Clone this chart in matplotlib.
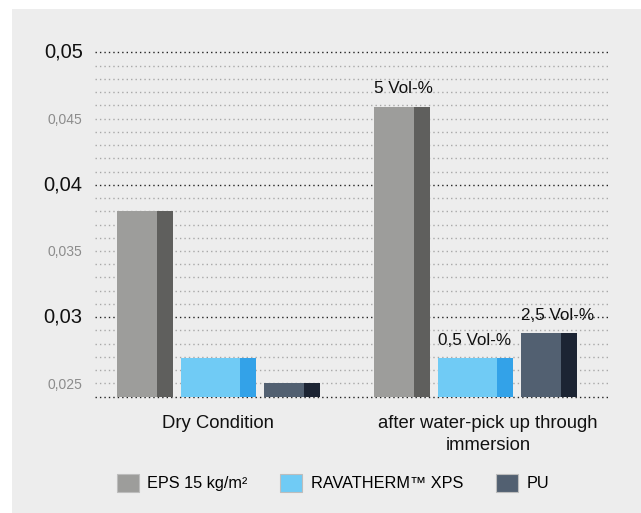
import matplotlib.pyplot as plt
from matplotlib.patches import Rectangle, Patch
from matplotlib.transforms import blended_transform_factory
import numpy as np

plt.rcParams['font.family'] = ['Liberation Sans', 'DejaVu Sans']

# data
groups = ["Dry Condition", "after water-pick up through\nimmersion"]
series = ["EPS 15 kg/m²", "RAVATHERM™ XPS", "PU"]
values = {
    "EPS 15 kg/m²": [0.0380, 0.0459],
    "RAVATHERM™ XPS": [0.0269, 0.0269],
    "PU": [0.0250, 0.0288],
}
notes = {
    "EPS 15 kg/m²": [None, "5 Vol-%"],
    "RAVATHERM™ XPS": [None, "0,5 Vol-%"],
    "PU": [None, "2,5 Vol-%"],
}
major_ticks = [0.03, 0.04, 0.05]
minor_ticks = [0.025, 0.035, 0.045]

# styles
light = {"EPS 15 kg/m²": "#9d9d9b", "RAVATHERM™ XPS": "#70cbf5", "PU": "#526071"}
dark = {"EPS 15 kg/m²": "#5f5f5d", "RAVATHERM™ XPS": "#33a2e8", "PU": "#1c2433"}
widths = {"EPS 15 kg/m²": 0.218, "RAVATHERM™ XPS": 0.292, "PU": 0.218}
shade = 0.062
gap = 0.031

fig = plt.figure(figsize=(6.41, 5.13), dpi=100)
fig.patch.set_facecolor("white")
fig.patches.append(Rectangle((12 / 641, 0), 1, 1 - 9 / 513, transform=fig.transFigure,
                             facecolor="#ededed", edgecolor="none", zorder=-10))

ax = fig.add_axes([95 / 641, 1 - 396.7 / 513, 513 / 641, (396.7 - 52.3) / 513])
ax.set_zorder(1)
ax.set_facecolor("none")
ymin, ymax = 0.024, 0.05
ax.set_ylim(ymin, ymax)
ax.set_xlim(-0.48, 1.516)
for s in ax.spines.values():
    s.set_visible(False)
ax.set_xticks([])
ax.set_yticks([])

# dotted grid
for k in range(27):
    y = round(ymin + k * 0.001, 3)
    is_major = y in major_ticks or k == 0
    ax.axhline(y, color="#222222" if is_major else "#a8a8a8", lw=1.0,
               linestyle=(0, (1, 2.2)), zorder=1, clip_on=False)

trans_y = blended_transform_factory(ax.transAxes, ax.transData)
for t in major_ticks:
    ax.text(-0.024, t, f"{t:.2f}".replace(".", ","), transform=trans_y,
            ha="right", va="center", fontsize=14.5, color="#111111")
for t in minor_ticks:
    ax.text(-0.024, t, f"{t:.3f}".replace(".", ","), transform=trans_y,
            ha="right", va="center_baseline", fontsize=10, color="#8c8c8c")

total = sum(widths.values()) + 2 * gap
for g in range(len(groups)):
    x = g - total / 2
    for s in series:
        w = widths[s]
        v = values[s][g]
        ax.bar(x, v, width=w - shade, align="edge", color=light[s], zorder=2)
        ax.bar(x + w - shade, v, width=shade, align="edge", color=dark[s], zorder=2)
        if notes[s][g]:
            ax.annotate(notes[s][g], (x, v), xytext=(0, 9.5), textcoords="offset points",
                        ha="left", va="baseline", fontsize=12.3, color="#111111", zorder=3)
        x += w + gap

# second label sits a little right of its group centre in the original
label_shift = [0.0, 0.05]
trans_x = blended_transform_factory(ax.transData, ax.transAxes)
for g, name in enumerate(groups):
    ax.text(g + label_shift[g], -0.052, name, transform=trans_x, ha="center", va="top",
            fontsize=13.3, color="#111111", linespacing=1.45)

handles = [Patch(facecolor=light[s], edgecolor="#bdbdbd", linewidth=0.8, label=s) for s in series]
fig.legend(handles=handles, loc="center", bbox_to_anchor=(333 / 641, 1 - 483 / 513), ncol=3,
           frameon=False, fontsize=11.7, handlelength=1.35, handleheight=1.35,
           handletextpad=0.55, columnspacing=2.0)

fig.savefig("out.png", dpi=100)
